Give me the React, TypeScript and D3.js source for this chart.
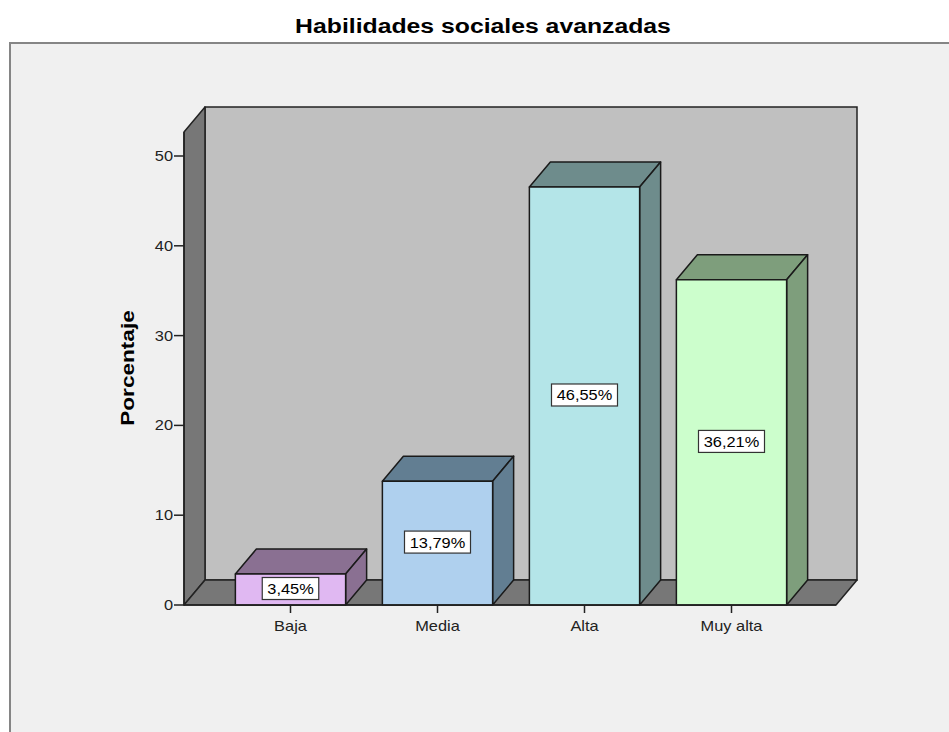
import React from "react";
import * as d3 from "d3";

const categories = ["Baja", "Media", "Alta", "Muy alta"];
const values = [3.45, 13.79, 46.55, 36.21];
const valueLabels = ["3,45%", "13,79%", "46,55%", "36,21%"];
const yTicks = [0, 10, 20, 30, 40, 50];
const frontColors = ["#e0b8f2", "#afd0ee", "#b4e5e8", "#ccfecc"];
const sideColors = ["#8a7092", "#627e92", "#6e8c8c", "#7e9e7c"];

const font = "Arial, 'Liberation Sans', sans-serif";

function Txt(props: {
  x: number; y: number; size: number; anchor?: string; bold?: boolean; fill?: string;
  rotate?: number; sx?: number; children: React.ReactNode;
}) {
  const { x, y, size, anchor = "start", bold, fill = "#000", rotate = 0, sx = 1.17, children } = props;
  return (
    <text
      transform={`translate(${x},${y}) rotate(${rotate}) scale(${sx},1)`}
      textAnchor={anchor as any}
      fontSize={size}
      fontWeight={bold ? "bold" : "normal"}
      fill={fill}
      fontFamily={font}
    >
      {children}
    </text>
  );
}

export default function App() {
  const W = 949, H = 732;
  const dx = 21, dy = -25;
  const x0 = 184, x1 = 836;
  const y = d3.scaleLinear().domain([0, 50]).range([605, 156]);
  const x = d3.scaleBand().domain(categories).range([217, 805]).paddingInner(0.25).paddingOuter(0.125);
  const yTop = 132;
  const bw = x.bandwidth();

  return (
    <svg width={W} height={H} style={{ position: "absolute", left: 0, top: 0 }} fontFamily={font}>
      <rect x={0} y={0} width={W} height={H} fill="#ffffff" />
      <rect x={10} y={43} width={W} height={H} fill="#f0f0f0" stroke="#858585" strokeWidth={2} />
      <Txt x={483} y={33} size={21} anchor="middle" bold sx={1.18}>
        Habilidades sociales avanzadas
      </Txt>
      {/* back wall */}
      <rect x={x0 + dx} y={yTop + dy} width={x1 - x0} height={y(0) - yTop} fill="#c0c0c0" stroke="#222" strokeWidth={1.5} />
      {/* left side wall */}
      <polygon
        points={`${x0},${y(0)} ${x0},${yTop} ${x0 + dx},${yTop + dy} ${x0 + dx},${y(0) + dy}`}
        fill="#777777" stroke="#222" strokeWidth={1.5} strokeLinejoin="round"
      />
      {/* floor */}
      <polygon
        points={`${x0},${y(0)} ${x1},${y(0)} ${x1 + dx},${y(0) + dy} ${x0 + dx},${y(0) + dy}`}
        fill="#777777" stroke="#222" strokeWidth={1.5} strokeLinejoin="round"
      />
      {/* bars */}
      {categories.map((c, i) => {
        const bx = x(c)!;
        const top = y(values[i]);
        const bot = y(0);
        return (
          <g key={c} stroke="#1a1a1a" strokeWidth={1.5} strokeLinejoin="round">
            <polygon
              points={`${bx},${top} ${bx + dx},${top + dy} ${bx + bw + dx},${top + dy} ${bx + bw},${top}`}
              fill={sideColors[i]}
            />
            <polygon
              points={`${bx + bw},${top} ${bx + bw + dx},${top + dy} ${bx + bw + dx},${bot + dy} ${bx + bw},${bot}`}
              fill={sideColors[i]}
            />
            <rect x={bx} y={top} width={bw} height={bot - top} fill={frontColors[i]} />
          </g>
        );
      })}
      {/* value labels */}
      {categories.map((c, i) => {
        const cx = x(c)! + bw / 2;
        const cy = y(values[i] / 2) - 1;
        const w = valueLabels[i].length * 9.5 + 9;
        return (
          <g key={"l" + c}>
            <rect x={cx - w / 2} y={cy - 11} width={w} height={22} fill="#fff" stroke="#333" strokeWidth={1.2} />
            <Txt x={cx} y={cy + 5.5} size={14} anchor="middle">
              {valueLabels[i]}
            </Txt>
          </g>
        );
      })}
      {/* y axis */}
      <line x1={x0} x2={x0} y1={y(0)} y2={yTop} stroke="#222" strokeWidth={1.5} />
      {yTicks.map((t) => (
        <g key={t}>
          <line x1={x0 - 10} x2={x0} y1={y(t)} y2={y(t)} stroke="#222" strokeWidth={1.5} />
          <Txt x={x0 - 11} y={y(t) + 5} size={14} anchor="end" fill="#222">
            {t}
          </Txt>
        </g>
      ))}
      {/* x axis */}
      <line x1={x0} x2={x1} y1={y(0)} y2={y(0)} stroke="#222" strokeWidth={1.5} />
      {categories.map((c) => {
        const cx = x(c)! + bw / 2;
        return (
          <g key={"x" + c}>
            <line x1={cx} x2={cx} y1={y(0)} y2={y(0) + 8} stroke="#222" strokeWidth={1.5} />
            <Txt x={cx} y={y(0) + 26} size={14} anchor="middle" fill="#222">
              {c}
            </Txt>
          </g>
        );
      })}
      <Txt x={134} y={368} size={19} anchor="middle" bold rotate={-90} sx={1.19}>
        Porcentaje
      </Txt>
    </svg>
  );
}
